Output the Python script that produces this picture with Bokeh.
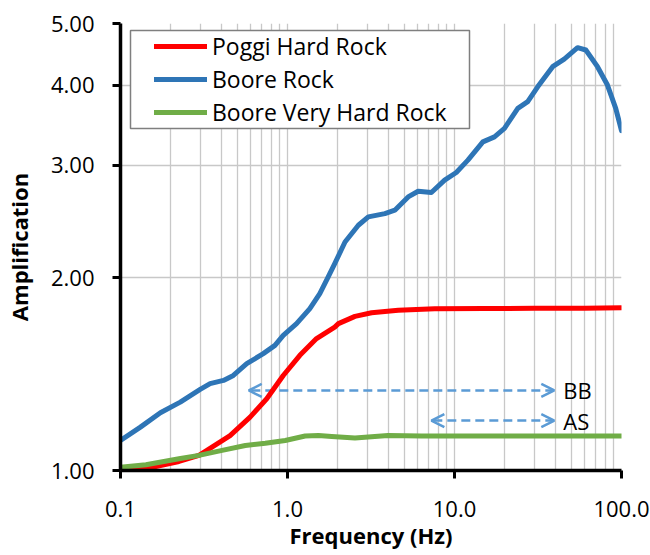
from bokeh.plotting import figure
from bokeh.models import (FixedTicker, PrintfTickFormatter, Legend, LegendItem,
                          Arrow, OpenHead, Label, BoxAnnotation)
from bokeh.embed import file_html
from bokeh.resources import INLINE

# ---- data ----
boore_rock_f = [0.100, 0.1316, 0.1733, 0.228, 0.300, 0.344, 0.4135, 0.474, 0.570, 0.716,
                0.841, 0.943, 1.133, 1.361, 1.561, 1.750, 1.918, 2.210, 2.656, 3.047,
                3.828, 4.392, 5.279, 6.057, 7.271, 8.728, 10.25, 12.03, 14.79, 17.35,
                19.91, 23.93, 27.45, 31.49, 38.70, 45.39, 54.56, 61.15, 71.81, 82.40,
                92.35, 100.0]
boore_rock_a = [1.114, 1.169, 1.231, 1.279, 1.339, 1.367, 1.383, 1.408, 1.469, 1.523,
                1.569, 1.627, 1.697, 1.791, 1.891, 2.007, 2.106, 2.277, 2.418, 2.492,
                2.522, 2.553, 2.678, 2.733, 2.721, 2.844, 2.924, 3.057, 3.265, 3.324,
                3.427, 3.684, 3.773, 3.981, 4.280, 4.399, 4.583, 4.545, 4.280, 4.006,
                3.684, 3.400]

poggi_f = [0.100, 0.155, 0.224, 0.295, 0.329, 0.453, 0.597, 0.751, 0.943, 1.186,
           1.492, 1.918, 2.018, 2.535, 3.188, 4.603, 7.61, 15.0, 30.0, 60.0, 100.0]
poggi_a = [1.000, 1.012, 1.033, 1.056, 1.075, 1.134, 1.212, 1.295, 1.408, 1.514,
           1.608, 1.676, 1.697, 1.742, 1.765, 1.780, 1.791, 1.792, 1.793, 1.793, 1.796]

boore_vh_f = [0.100, 0.142, 0.224, 0.295, 0.406, 0.559, 0.736, 0.969, 1.275, 1.533,
              1.841, 2.535, 4.0, 6.34, 10.0, 20.0, 50.0, 100.0]
boore_vh_a = [1.012, 1.021, 1.043, 1.056, 1.075, 1.094, 1.103, 1.114, 1.132, 1.134,
              1.130, 1.124, 1.134, 1.132, 1.132, 1.132, 1.132, 1.132]

series_names = ["Poggi Hard Rock", "Boore Rock", "Boore Very Hard Rock"]

x_ticks = [0.1, 1.0, 10.0, 100.0]
y_ticks = [1.0, 2.0, 3.0, 4.0, 5.0]
x_minor = [m * d for d in (0.1, 1.0, 10.0) for m in range(2, 10)]

bb_range = [0.586, 39.6]
bb_level = 1.334
as_range = [7.27, 39.6]
as_level = 1.197
band_labels = ["BB", "AS"]

# ---- styling ----
FONT = "Open Sans"
RED = "#FF0000"
BLUE = "#2E75B6"
GREEN = "#70AD47"
ARROW = "#5B9BD5"
GRID = "#C8C8C8"

p = figure(width=650, height=555, x_axis_type="log", y_axis_type="log",
           x_range=(0.1, 100), y_range=(1.0, 5.0),
           output_backend="svg", toolbar_location=None,
           min_border_left=118, min_border_right=29,
           min_border_top=23, min_border_bottom=85)
p.outline_line_color = None
p.background_fill_color = "white"
p.border_fill_color = "white"

# axes
p.xaxis.ticker = FixedTicker(ticks=x_ticks, minor_ticks=x_minor)
p.yaxis.ticker = FixedTicker(ticks=y_ticks, minor_ticks=[])
p.xaxis.formatter = PrintfTickFormatter(format="%.1f")
p.yaxis.formatter = PrintfTickFormatter(format="%.2f")
for ax in (p.xaxis, p.yaxis):
    ax.axis_line_color = "black"
    ax.axis_line_width = 3.5
    ax.major_tick_line_color = "black"
    ax.major_tick_line_width = 3
    ax.major_tick_in = 0
    ax.major_tick_out = 8
    ax.minor_tick_line_color = None
    ax.major_label_text_font = FONT
    ax.major_label_text_font_size = "22px"
    ax.major_label_text_color = "black"
    ax.axis_label_text_font = FONT
    ax.axis_label_text_font_size = "22px"
    ax.axis_label_text_font_style = "bold"
    ax.axis_label_text_color = "black"
p.xaxis.axis_label = "Frequency (Hz)"
p.yaxis.axis_label = "Amplification"
p.xaxis.major_label_standoff = 22
p.xaxis.axis_label_standoff = 0
p.yaxis.major_label_standoff = 18
p.yaxis.axis_label_standoff = 14

# grid
p.xgrid.grid_line_color = GRID
p.xgrid.grid_line_width = 1.3
p.xgrid.minor_grid_line_color = GRID
p.xgrid.minor_grid_line_width = 1.3
p.ygrid.grid_line_color = GRID
p.ygrid.grid_line_width = 1.3

# band arrows (under the curves)
for rng, lvl, lab in ((bb_range, bb_level, band_labels[0]), (as_range, as_level, band_labels[1])):
    arr = Arrow(x_start=rng[1], y_start=lvl, x_end=rng[0], y_end=lvl,
                start=OpenHead(size=13, line_color=ARROW, line_width=2.5),
                end=OpenHead(size=13, line_color=ARROW, line_width=2.5),
                line_color=ARROW, line_width=2.5, line_dash="9 5", level="underlay")
    p.add_layout(arr)
    p.add_layout(Label(x=rng[1], y=lvl, x_offset=9, text=lab, text_baseline="middle",
                       text_font=FONT, text_font_size="22px", text_color="black"))

# curves
kw = dict(line_width=5, line_join="round", line_cap="round")
r_red = p.line(poggi_f, poggi_a, line_color=RED, **kw)
r_blue = p.line(boore_rock_f, boore_rock_a, line_color=BLUE, **kw)
r_green = p.line(boore_vh_f, boore_vh_a, line_color=GREEN, **kw)

# legend frame (screen units, measured from the frame's lower-left corner)
legend_box = BoxAnnotation(left=10, right=349, top=440, bottom=342,
                           left_units="screen", right_units="screen",
                           top_units="screen", bottom_units="screen",
                           fill_color="white", fill_alpha=1.0,
                           line_color="#7F7F7F", line_width=1.5, line_alpha=1.0)
p.add_layout(legend_box)

legend = Legend(items=[LegendItem(label=series_names[0], renderers=[r_red]),
                       LegendItem(label=series_names[1], renderers=[r_blue]),
                       LegendItem(label=series_names[2], renderers=[r_green])],
                location=(34, 342), margin=0, padding=0,
                glyph_width=53, glyph_height=20, label_height=20,
                label_standoff=5, spacing=1,
                label_text_font=FONT, label_text_font_size="23px",
                label_text_color="black",
                border_line_color=None, background_fill_alpha=0.0)
p.add_layout(legend)

open("out.html", "w").write(file_html(p, INLINE))
